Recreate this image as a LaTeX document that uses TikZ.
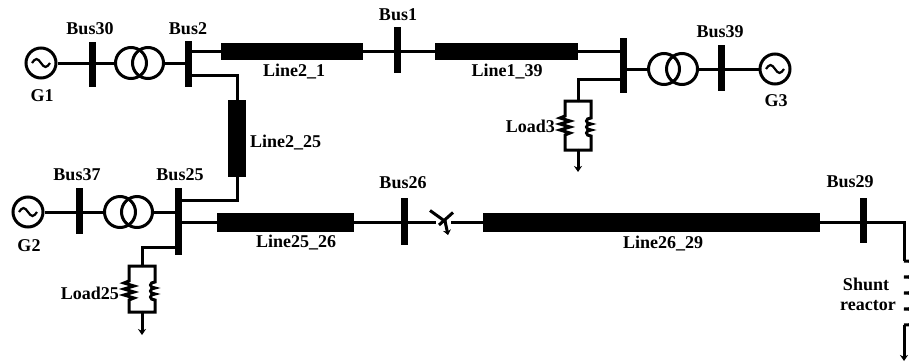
\documentclass[tikz,border=0pt]{standalone}
\usepackage{fontspec}
\setmainfont{Liberation Serif}
\usetikzlibrary{arrows.meta}
\begin{document}
\begin{tikzpicture}[x=1pt,y=-1pt,
  wire/.style={line width=3pt},
  busbar/.style={fill=black, inner sep=0pt, minimum width=7pt, draw=none},
  tline/.style={fill=black, inner sep=0pt, draw=none},
  gen/.style={circle, draw, line width=3pt, minimum size=30pt, inner sep=0pt},
  xf/.style={circle, draw, line width=3pt, minimum size=31pt, inner sep=0pt},
  lbl/.style={font=\fontsize{18}{20}\selectfont\bfseries, inner sep=0pt},
  gnd/.style={line width=3pt, -{Stealth[length=6pt,width=8pt]}},
  sine/.style={line width=2.2pt}
]
\useasboundingbox (0,0) rectangle (909,362);
\clip (0,0) rectangle (909,362);

% ---------- generators ----------
\node[gen] (G1) at (41,63) {};
\node[gen] (G3) at (775,69) {};
\node[gen] (G2) at (28,212) {};
\foreach \g in {G1,G2,G3}{
  \draw[sine] ([xshift=-9pt]\g.center) sin ++(4.5,-4) cos ++(4.5,4) sin ++(4.5,4) cos ++(4.5,-4);
}

% ---------- transformers ----------
\node[xf] (T1a) at (131,63) {};
\node[xf] (T1b) at (148,63) {};
\node[xf] (T3a) at (664,69) {};
\node[xf] (T3b) at (682,69) {};
\node[xf] (T2a) at (120,212) {};
\node[xf] (T2b) at (137,212) {};

% ---------- buses ----------
\node[busbar, minimum height=45pt] (B30) at (92,64.5) {};
\node[busbar, minimum height=46pt] (B2) at (188,64) {};
\node[busbar, minimum height=46pt] (B1) at (397,50) {};
\node[busbar, minimum height=55pt] (BR) at (623,65.5) {};
\node[busbar, minimum height=46pt] (B39) at (721,68) {};
\node[busbar, minimum height=46pt] (B37) at (79,211) {};
\node[busbar, minimum height=67pt] (B25) at (178,221.5) {};
\node[busbar, minimum height=47pt] (B26) at (404,221.5) {};
\node[busbar, minimum height=45pt] (B29) at (863,220.5) {};

% ---------- lines ----------
\node[tline, minimum width=142pt, minimum height=17pt] (L21) at (292,51.5) {};
\node[tline, minimum width=143pt, minimum height=17pt] (L139) at (506.5,51.5) {};
\node[tline, minimum width=18pt, minimum height=77pt] (L225) at (237,138.5) {};
\node[tline, minimum width=137pt, minimum height=19pt] (L2526) at (285.5,222.5) {};
\node[tline, minimum width=337pt, minimum height=19pt] (L2629) at (651.5,222.5) {};

% ---------- wires, top ----------
\draw[wire] (G1.east) -- (T1a.west);
\draw[wire] (T1b.east) -- (B2.center |- T1b.east);
\draw[wire] (B2.center |- L21.west) -- (L21.west);
\draw[wire] (L21.east) -- (L139.west);
\draw[wire] (L139.east) -- (BR.center |- L139.east);
\draw[wire] (BR.center |- T3a.west) -- (T3a.west);
\draw[wire] (T3b.east) -- (G3.west);

% Bus2 -> Line2_25 -> Bus25
\coordinate (tap2) at (188,75);
\coordinate (tap25a) at (178,200);
\draw[wire] (tap2) -| (L225.north);
\draw[wire] (L225.south) |- (tap25a);

% ---------- wires, bottom ----------
\draw[wire] (G2.east) -- (T2a.west);
\draw[wire] (T2b.east) -- (B25.center |- T2b.east);
\draw[wire] (B25.center |- L2526.west) -- (L2526.west);
\coordinate (brkL) at (436,222.5);
\coordinate (brkR) at (451,222.5);
\draw[wire] (L2526.east) -- (brkL);
\draw[wire] (brkR) -- (L2629.west);
% breaker
\draw[wire] (430,210.5) -- (446,222);
\draw[wire] (439,225) -- (453,212.5);
\draw[line width=3pt, -{Stealth[length=5pt,width=8pt]}] (445,221) -- (448,235);

% Bus29 -> shunt reactor
\coordinate (shT) at (904,261);
\coordinate (shB) at (904,325);
\draw[wire] (L2629.east) -- (904,222.5) -- (shT);
\draw[wire] (shT)
  arc[start angle=90, end angle=-90, x radius=20pt, y radius=8pt]
  arc[start angle=90, end angle=-90, x radius=20pt, y radius=8pt]
  arc[start angle=90, end angle=-90, x radius=20pt, y radius=8pt]
  arc[start angle=90, end angle=-90, x radius=20pt, y radius=8pt];
\draw[gnd] (shB) -- (904,361);

% ---------- loads ----------
% Load3
\coordinate (tap3) at (623,79);
\coordinate (L3t) at (578,101);
\coordinate (L3b) at (578,150);
\draw[wire] (tap3) -| (L3t);
\draw[wire, line join=miter] (L3t) -- (565,101) -- (565,116) -- (560,118) -- (570,121) -- (560,124) -- (570,127) -- (560,130) -- (570,133) -- (565,135) -- (565,150) -- (L3b);
\draw[wire] (L3t) -- (591,101) -- (591,118)
  .. controls (585,118) and (585,124) .. (591,124)
  .. controls (585,124) and (585,130) .. (591,130)
  .. controls (585,130) and (585,136) .. (591,136)
  -- (591,150) -- (L3b);
\draw[gnd] (L3b) -- (578,172);

% Load25
\coordinate (tap25b) at (178,247);
\coordinate (L25t) at (142,266);
\coordinate (L25b) at (142,312);
\draw[wire] (tap25b) -| (L25t);
\draw[wire, line join=miter] (L25t) -- (129,266) -- (129,281) -- (124,283) -- (134,286) -- (124,289) -- (134,292) -- (124,295) -- (134,298) -- (129,300) -- (129,312) -- (L25b);
\draw[wire] (L25t) -- (155,266) -- (155,282)
  .. controls (149,282) and (149,288) .. (155,288)
  .. controls (149,288) and (149,294) .. (155,294)
  .. controls (149,294) and (149,300) .. (155,300)
  -- (155,312) -- (L25b);
\draw[gnd] (L25b) -- (142,335);

% ---------- labels ----------
\node[lbl] (lB30) at (90,29) {Bus30};
\node[lbl] (lB2) at (188,29) {Bus2};
\node[lbl] (lG1) at (42,96) {G1};
\node[lbl] (lL21) at (294,72) {Line2\_1};
\node[lbl] (lB1) at (398,15) {Bus1};
\node[lbl] (lL139) at (507,72) {Line1\_39};
\node[lbl] (lB39) at (720,32) {Bus39};
\node[lbl] (lG3) at (776,101) {G3};
\node[lbl, anchor=east] (lLd3) at (555,126) {Load3};
\node[lbl, anchor=west] (lL225) at (250,143) {Line2\_25};
\node[lbl] (lB37) at (77,175) {Bus37};
\node[lbl] (lB25) at (180,175) {Bus25};
\node[lbl] (lG2) at (29,246) {G2};
\node[lbl] (lL2526) at (296,243) {Line25\_26};
\node[lbl] (lB26) at (403,183) {Bus26};
\node[lbl] (lL2629) at (663,244) {Line26\_29};
\node[lbl] (lB29) at (850,182) {Bus29};
\node[lbl, anchor=east] (lLd25) at (119,293) {Load25};
\node[lbl] (lSh) at (866,284) {Shunt};
\node[lbl] (lRe) at (868,306) {reactor};
\end{tikzpicture}
\end{document}
